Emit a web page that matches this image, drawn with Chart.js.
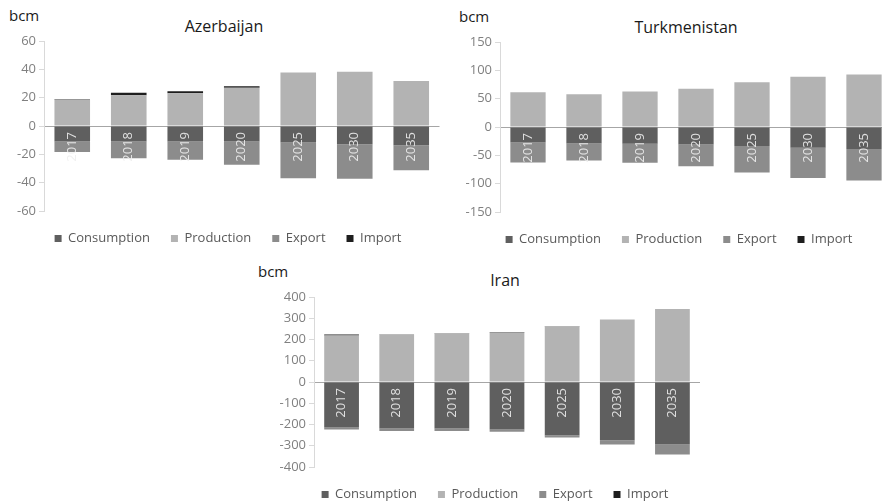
<!DOCTYPE html>
<html>
<head>
<meta charset="utf-8">
<script src="https://cdn.jsdelivr.net/npm/chart.js@4.4.0/dist/chart.umd.min.js"></script>
<style>
  html, body { margin: 0; padding: 0; background: #fff; }
  body { width: 882px; height: 503px; position: relative; overflow: hidden; font-family: "Open Sans", sans-serif; }
  .box { position: absolute; }
  .lbl { position: absolute; color: #1a1a1a; font-size: 15px; white-space: nowrap; line-height: 1; }
  .ttl { position: absolute; color: #1a1a1a; font-size: 16px; white-space: nowrap; line-height: 1; transform: translateX(-50%); }
</style>
</head>
<body>
<div class="lbl" style="left:9px;top:8px;">bcm</div>
<div class="ttl" style="left:224px;top:18px;">Azerbaijan</div>
<div class="lbl" style="left:459px;top:9px;">bcm</div>
<div class="ttl" style="left:686px;top:19px;">Turkmenistan</div>
<div class="lbl" style="left:258px;top:264px;">bcm</div>
<div class="ttl" style="left:505px;top:272px;">Iran</div>

<div class="box" style="left:0px;top:0px;width:456px;height:255px;"><canvas id="azChart"></canvas></div>
<div class="box" style="left:440px;top:0px;width:478px;height:256px;"><canvas id="tmChart"></canvas></div>
<div class="box" style="left:250px;top:255px;width:490px;height:256px;"><canvas id="irChart"></canvas></div>

<script>
// Shared categories
const years = ['2017', '2018', '2019', '2020', '2025', '2030', '2035'];

// Azerbaijan (bcm)
const azConsumption = [-11.0, -11.0, -11.0, -11.0, -11.7, -12.9, -13.6];
const azProduction = [18.5, 21.7, 23.1, 27.0, 37.8, 38.3, 31.7];
const azExport = [-7.3, -11.8, -12.8, -16.3, -25.2, -24.3, -17.7];
const azImport = [0.4, 1.7, 1.5, 1.0, 0, 0, 0];

// Turkmenistan (bcm)
const tmConsumption = [-27.2, -28.9, -29.5, -30.7, -33.7, -36.6, -39.0];
const tmProduction = [61.4, 57.9, 62.6, 67.3, 79.1, 88.6, 92.7];
const tmExport = [-35.4, -30.2, -33.7, -38.4, -46.6, -53.2, -55.5];
const tmImport = [0, 0, 0, 0, 0, 0, 0];

// Iran (bcm)
const irConsumption = [-214, -219, -219, -223, -250, -274, -294];
const irProduction = [219, 223, 229, 232, 262, 294, 344];
const irExport = [-9, -11, -11, -11, -11, -20, -47];
const irImport = [5, 2, 1.5, 2, 1, 0, 0];

// Axis ranges
const azTicks = { min: -60, max: 60, step: 20 };
const tmTicks = { min: -150, max: 150, step: 50 };
const irTicks = { min: -400, max: 400, step: 100 };

const FONT = '"Open Sans", sans-serif';
const colors = {
  consumption: '#5f5f5f',
  production: '#b3b3b3',
  export: '#8c8c8c',
  import: '#1e1e1e'
};

// Year labels written vertically inside the bars, just under the zero line
const yearLabels = {
  id: 'yearLabels',
  afterDatasetsDraw(chart) {
    const { ctx, scales: { x, y } } = chart;
    const y0 = y.getPixelForValue(0);
    ctx.save();
    ctx.font = '13px ' + FONT;
    ctx.fillStyle = 'rgba(238,238,238,0.9)';
    ctx.textAlign = 'right';
    ctx.textBaseline = 'middle';
    chart.data.labels.forEach((yr, i) => {
      ctx.save();
      ctx.translate(x.getPixelForValue(i), y0 + 6);
      ctx.rotate(-Math.PI / 2);
      ctx.fillText(yr, 0, 0);
      ctx.restore();
    });
    ctx.restore();
  }
};

function makeChart(id, series, ticks, leftWidth, rightWidth, padTop) {
  return new Chart(document.getElementById(id), {
    type: 'bar',
    data: {
      labels: years,
      datasets: [
        { label: 'Consumption', data: series[0], backgroundColor: colors.consumption },
        { label: 'Production', data: series[1], backgroundColor: colors.production },
        { label: 'Export', data: series[2], backgroundColor: colors.export },
        { label: 'Import', data: series[3], backgroundColor: colors.import }
      ]
    },
    options: {
      responsive: true,
      maintainAspectRatio: false,
      animation: false,
      layout: { padding: { top: padTop, left: 0, right: 0, bottom: 0 } },
      datasets: { bar: { categoryPercentage: 1, barPercentage: 0.63 } },
      scales: {
        x: { stacked: true, display: false },
        y: {
          stacked: true,
          min: ticks.min,
          max: ticks.max,
          afterFit(scale) { scale.width = leftWidth; },
          ticks: { stepSize: ticks.step, color: '#808080', font: { family: FONT, size: 13 }, padding: 3 },
          border: { display: true, color: '#d9d9d9' },
          grid: {
            color: (c) => (c.tick && c.tick.value === 0 ? '#a6a6a6' : 'rgba(0,0,0,0)'),
            tickColor: '#d9d9d9',
            tickLength: 5
          }
        },
        // empty axis that only keeps room on the right side
        yr: {
          position: 'right',
          display: true,
          afterFit(scale) { scale.width = rightWidth; },
          ticks: { display: false },
          grid: { display: false },
          border: { display: false }
        }
      },
      plugins: {
        legend: {
          position: 'bottom',
          labels: {
            boxWidth: 7,
            boxHeight: 7,
            padding: 21,
            color: '#595959',
            font: { family: FONT, size: 13 }
          }
        },
        tooltip: { enabled: false }
      }
    },
    plugins: [yearLabels]
  });
}

makeChart('azChart', [azConsumption, azProduction, azExport, azImport], azTicks, 44, 16.5, 41);
makeChart('tmChart', [tmConsumption, tmProduction, tmExport, tmImport], tmTicks, 60, 26, 42);
makeChart('irChart', [irConsumption, irProduction, irExport, irImport], irTicks, 64, 40, 42);
</script>
</body>
</html>
